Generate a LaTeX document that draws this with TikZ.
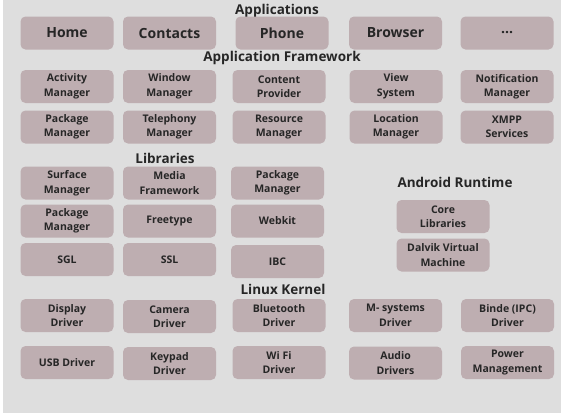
\documentclass[tikz,border=0pt]{standalone}
\usepackage{fontspec}
\setmainfont{Open Sans}
\definecolor{bgc}{RGB}{222,222,222}
\definecolor{boxc}{RGB}{190,174,177}
\definecolor{txt}{RGB}{38,38,38}
\begin{document}
\begin{tikzpicture}[x=1pt,y=-1pt,
  comp/.style={fill=boxc,rounded corners=5pt,minimum width=93pt,minimum height=33pt,
    align=center,font=\bfseries\fontsize{10.5}{14.5}\selectfont,text=txt,inner sep=0pt},
  big/.style={comp,font=\bfseries\fontsize{14}{16}\selectfont},
  head/.style={font=\bfseries\fontsize{13.5}{15}\selectfont,text=txt,inner sep=0pt}]
\fill[white] (0,0) rectangle (561,413);
\fill[bgc] (3,0) rectangle (561,413);
\useasboundingbox (0,0) rectangle (561,413);
% Applications
\node[head] (happ) at (277,11) {Applications};
\node[big] (home) at (67,33) {Home};
\node[big] (contacts) at (169.5,33) {Contacts};
\node[big] (phone) at (282,33) {Phone};
\node[big] (browser) at (395.5,33) {Browser};
\node[big] (dots) at (507,33) {...};
% Framework
\node[head] (hfw) at (282,58) {Application Framework};
\node[comp] (activity) at (67,86.5) {Activity\\Manager};
\node[comp] (window) at (169.5,86.5) {Window\\Manager};
\node[comp] (content) at (279,86.5) {Content\\Provider};
\node[comp] (view) at (396,86.5) {View\\System};
\node[comp] (notif) at (507,86.5) {Notification\\Manager};
\node[comp] (pkg1) at (67,127) {Package\\Manager};
\node[comp] (tele) at (169.5,127) {Telephony\\Manager};
\node[comp] (res) at (279,127) {Resource\\Manager};
\node[comp] (loc) at (396,127) {Location\\Manager};
\node[comp] (xmpp) at (507,127) {XMPP\\Services};
% Libraries
\node[head] (hlib) at (165,158) {Libraries};
\node[comp] (surface) at (67,183) {Surface\\Manager};
\node[comp] (media) at (169.5,183) {Media\\Framework};
\node[comp] (pkg2) at (277.5,183) {Package\\Manager};
\node[comp] (pkg3) at (67,221) {Package\\Manager};
\node[comp] (free) at (169.5,221) {Freetype};
\node[comp] (webkit) at (277.5,221) {Webkit};
\node[comp] (sgl) at (67,259.5) {SGL};
\node[comp] (ssl) at (169.5,259.5) {SSL};
\node[comp] (ibc) at (277.5,261.5) {IBC};
% Runtime
\node[head] (hrt) at (455,182) {Android Runtime};
\node[comp] (core) at (443,216.5) {Core\\Libraries};
\node[comp] (dalvik) at (443,255) {Dalvik Virtual\\Machine};
% Linux
\node[head] (hlin) at (283,289) {Linux Kernel};
\node[comp] (display) at (67,315.5) {Display\\Driver};
\node[comp] (camera) at (169.5,316.5) {Camera\\Driver};
\node[comp] (bt) at (279,315.5) {Bluetooth\\Driver};
\node[comp] (msys) at (395.5,315.5) {M- systems\\Driver};
\node[comp] (binde) at (507.5,315.5) {Binde (IPC)\\Driver};
\node[comp] (usb) at (67,362.5) {USB Driver};
\node[comp] (keypad) at (169.5,363.5) {Keypad\\Driver};
\node[comp] (wifi) at (279,362.5) {Wi Fi\\Driver};
\node[comp] (audio) at (395.5,363) {Audio\\Drivers};
\node[comp] (power) at (507.5,362.5) {Power\\Management};
\end{tikzpicture}
\end{document}
